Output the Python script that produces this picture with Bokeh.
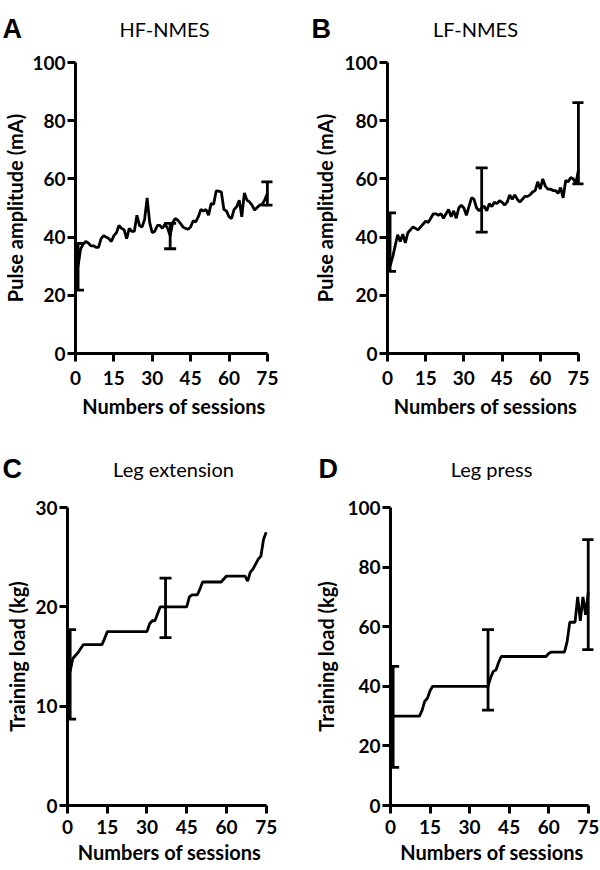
from bokeh.plotting import figure
from bokeh.layouts import column, row
from bokeh.models import Range1d, FixedTicker, Whisker, ColumnDataSource, TeeHead
from bokeh.core.properties import value
from bokeh.embed import file_html
from bokeh.resources import INLINE

# ---------------- data ----------------
x_ticks = [0, 15, 30, 45, 60, 75]
y_ticks_100 = [0, 20, 40, 60, 80, 100]
y_ticks_30 = [0, 10, 20, 30]

hf_sessions = list(range(1, 76))
hf_values = [30, 36, 37.5, 38.5, 38, 37, 37, 36.5, 36.5, 39.5,
             40.5, 40, 39.5, 38.5, 40.5, 41.5, 44, 43, 42.5, 39.5,
             43, 42, 42, 47.5, 44, 43.5, 46, 53.5, 45, 41.5,
             42, 44, 44, 43, 44.5, 43, 40.5, 45, 46.4, 45.8,
             44.7, 43.5, 43, 42.7, 43.5, 45.6, 45.2, 47, 49.5, 48.9,
             49.5, 47.5, 51.5, 51.3, 55.9, 55.8, 55.5, 49.5, 49, 47,
             46.4, 49.5, 50.4, 52.7, 47, 55.2, 52.7, 52.1, 51, 49.3,
             50.2, 51, 51.3, 52.9, 55]
hf_bar_x = [1, 37, 75]
hf_bar_lo = [21.8, 36, 51]
hf_bar_hi = [37.8, 44.7, 59]

lf_sessions = list(range(1, 76))
lf_values = [30, 33, 37, 40.8, 38.5, 41, 38, 41.5, 42.5, 43.5,
             43, 42.5, 43.5, 44.5, 45.5, 45, 46.5, 48, 48, 47.5,
             48, 46.5, 48, 49.5, 47, 49, 46.5, 50, 51, 50,
             47.5, 50.5, 53.5, 53, 50, 49, 50, 50.6, 49, 51.5,
             50.5, 52, 51.5, 52.5, 52, 51, 52, 54.5, 53, 54.5,
             53, 52, 53, 54, 54, 54.5, 55.5, 56, 59, 56.5,
             60, 57.5, 56.5, 56.5, 56, 56, 55, 57, 53.5, 59.5,
             59, 60.5, 60, 58.5, 63]
lf_bar_x = [1, 37, 75]
lf_bar_lo = [28.2, 41.7, 58.3]
lf_bar_hi = [48.3, 63.8, 86.2]

le_sessions = [1, 2, 3, 4, 5, 6, 13, 14, 15, 30, 31, 32, 33, 34, 35, 37, 45, 46, 47,
               49, 50, 51, 58, 59, 60, 67, 68, 69, 70, 71, 72, 73, 74, 75]
le_values = [13.5, 14.8, 15.1, 15.4, 15.8, 16.2, 16.2, 16.8, 17.5, 17.5, 18.3, 18.6,
             18.6, 19.3, 20, 20, 20, 21, 21.2, 21.2, 21.8, 22.5, 22.5, 22.8, 23.1,
             23.1, 22.6, 23.5, 23.8, 24.3, 24.8, 25.1, 26.8, 27.5]
le_bar_x = [1, 37]
le_bar_lo = [8.7, 16.9]
le_bar_hi = [17.7, 22.9]

lp_sessions = [1, 11, 12, 13, 14, 15, 16, 37, 38, 39, 40, 41, 42, 59, 60, 61, 66, 67,
               68, 70, 71, 72, 73, 74, 75]
lp_values = [30, 30, 32, 35, 36, 38.5, 40, 40, 43, 45, 45.5, 48, 50, 50, 51, 51.5,
             51.5, 55, 61.5, 61.5, 70, 62, 70, 64, 71.5]
lp_bar_x = [1, 37, 75]
lp_bar_lo = [12.8, 32, 52.3]
lp_bar_hi = [46.7, 59, 89.2]

panel_letters = ["A", "B", "C", "D"]
panel_titles = ["HF-NMES", "LF-NMES", "Leg extension", "Leg press"]
x_label = "Numbers of sessions"
y_label_top = "Pulse amplitude (mA)"
y_label_bottom = "Training load (kg)"

X_MAX = 77  # a little room so the caps at session 75 are not cut


def make_header(w, h, letter, title, letter_x, title_x, base_y):
    p = figure(width=w, height=h, x_range=Range1d(0, w), y_range=Range1d(h, 0),
               x_axis_type=None, y_axis_type=None, output_backend="svg",
               toolbar_location=None, min_border=0)
    p.outline_line_color = None
    p.xgrid.visible = False
    p.ygrid.visible = False
    p.text(x=[letter_x], y=[base_y], text=[letter], text_font=value("Liberation Sans"),
           text_font_style="bold", text_font_size="27px", text_baseline="alphabetic",
           text_align="left", text_color="black")
    p.text(x=[title_x], y=[base_y], text=[title], text_font=value("Lato"),
           text_font_size="20px", text_baseline="alphabetic",
           text_align="center", text_color="black")
    return p


def make_panel(w, h, bl, br, bt, bb, ymax, yticks, ylabel, xs, ys, bx, blo, bhi,
               x_lab_std, x_axlab_std, y_axlab_std):
    p = figure(width=w, height=h, x_range=Range1d(0, X_MAX), y_range=Range1d(0, ymax),
               output_backend="svg", toolbar_location=None,
               min_border_left=bl, min_border_right=br,
               min_border_top=bt, min_border_bottom=bb)
    p.outline_line_color = None
    p.xgrid.visible = False
    p.ygrid.visible = False
    p.xaxis.ticker = FixedTicker(ticks=x_ticks)
    p.yaxis.ticker = FixedTicker(ticks=yticks)
    p.xaxis.bounds = (0, 75)
    p.xaxis.axis_label = x_label
    p.yaxis.axis_label = ylabel
    for ax in (p.xaxis[0], p.yaxis[0]):
        ax.axis_line_width = 3
        ax.major_tick_line_width = 3
        ax.major_tick_out = 8
        ax.major_tick_in = 0
        ax.minor_tick_line_color = None
        ax.major_label_text_font = "Lato"
        ax.major_label_text_font_style = "bold"
        ax.major_label_text_font_size = "19px"
        ax.major_label_text_color = "black"
        ax.axis_label_text_font = "Lato"
        ax.axis_label_text_font_style = "bold"
        ax.axis_label_text_font_size = "20px"
        ax.axis_label_text_color = "black"
    p.xaxis.major_label_standoff = x_lab_std
    p.xaxis.axis_label_standoff = x_axlab_std
    p.yaxis.major_label_standoff = 2
    p.yaxis.axis_label_standoff = y_axlab_std

    p.line(xs, ys, line_color="black", line_width=2.8)
    src = ColumnDataSource(dict(x=bx, lo=blo, hi=bhi))
    wh = Whisker(base="x", lower="lo", upper="hi", source=src, dimension="height",
                 line_color="black", line_width=2.8,
                 upper_head=TeeHead(size=12, line_width=2.8, line_color="black"),
                 lower_head=TeeHead(size=12, line_width=2.8, line_color="black"))
    p.add_layout(wh)
    return p


hA = make_header(300, 48, panel_letters[0], panel_titles[0], 2, 164, 28)
hB = make_header(300, 48, panel_letters[1], panel_titles[1], 11, 175, 28)
hC = make_header(300, 62, panel_letters[2], panel_titles[2], 2, 173, 40)
hD = make_header(300, 62, panel_letters[3], panel_titles[3], 18, 191, 40)

pA = make_panel(300, 380, 73, 28, 14, 75, 100, y_ticks_100, y_label_top,
                hf_sessions, hf_values, hf_bar_x, hf_bar_lo, hf_bar_hi, 9, 6, 2)
pB = make_panel(300, 380, 87, 17, 14, 75, 100, y_ticks_100, y_label_top,
                lf_sessions, lf_values, lf_bar_x, lf_bar_lo, lf_bar_hi, 9, 6, 4)
pC = make_panel(300, 380, 67, 29, 15, 65, 30, y_ticks_30, y_label_bottom,
                le_sessions, le_values, le_bar_x, le_bar_lo, le_bar_hi, 6, 3, 3)
pD = make_panel(300, 380, 90, 7, 17, 64, 100, y_ticks_100, y_label_bottom,
                lp_sessions, lp_values, lp_bar_x, lp_bar_lo, lp_bar_hi, 6, 3, 6)

layout = column(row(hA, hB), row(pA, pB), row(hC, hD), row(pC, pD))
open("out.html", "w").write(file_html(layout, INLINE))
